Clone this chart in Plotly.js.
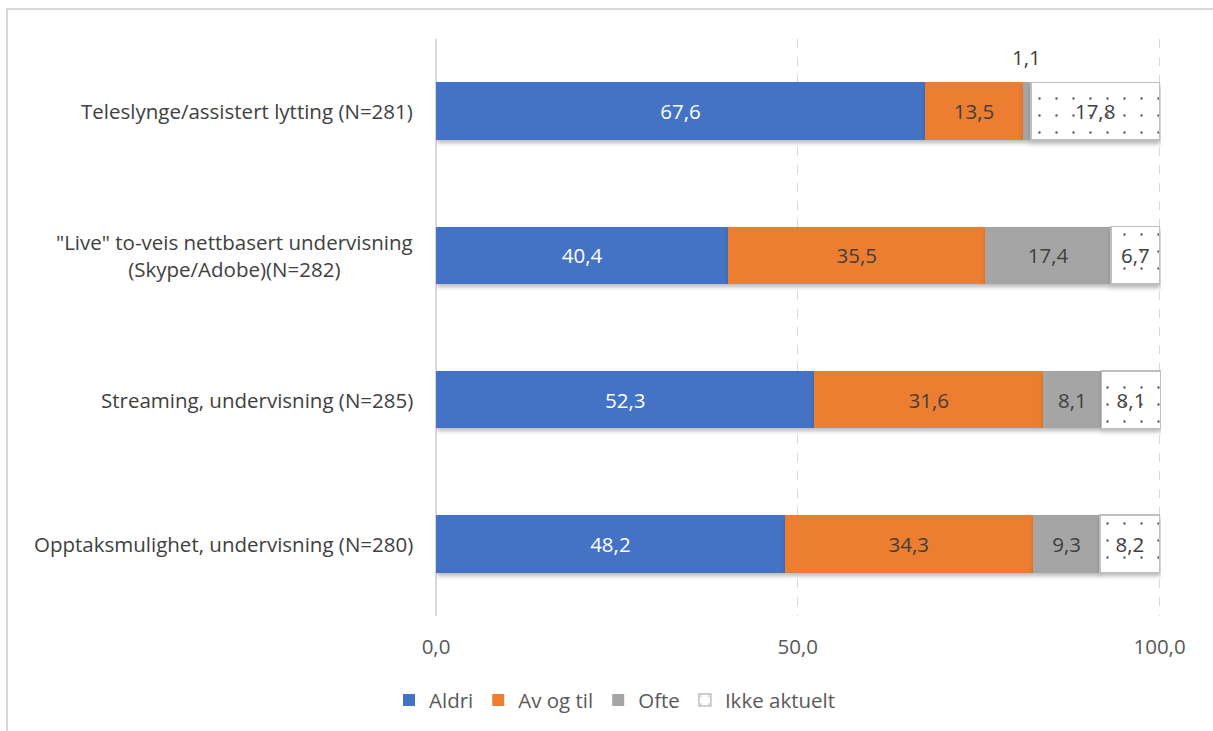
<!DOCTYPE html>
<html>
<head>
<meta charset="utf-8">
<script src="https://cdn.plot.ly/plotly-3.0.1.min.js"></script>
<style>
  html, body { margin: 0; padding: 0; background: #fff; }
  #wrap { position: relative; width: 1213px; height: 731px; }
  #chart { position: absolute; left: 0; top: 0; width: 1213px; height: 731px; }
  #frame { position: absolute; left: 6px; top: 8px; width: 1220px; height: 740px;
           border-left: 2px solid #d9d9d9; border-top: 2px solid #d9d9d9; pointer-events: none; }
  .barlayer .point path { filter: drop-shadow(1px 3px 2px rgba(0,0,0,0.28)); }
</style>
</head>
<body>
<div id="wrap"><div id="chart"></div><div id="frame"></div></div>
<script>
const categories = [
  'Teleslynge/assistert lytting (N=281)',
  '"Live" to-veis nettbasert undervisning<br>(Skype/Adobe)(N=282)',
  'Streaming, undervisning (N=285)',
  'Opptaksmulighet, undervisning (N=280)'
];
const seriesNames = ['Aldri', 'Av og til', 'Ofte', 'Ikke aktuelt'];
const aldri = [67.6, 40.4, 52.3, 48.2];
const avOgTil = [13.5, 35.5, 31.6, 34.3];
const ofte = [1.1, 17.4, 8.1, 9.3];
const ikkeAktuelt = [17.8, 6.7, 8.1, 8.2];
const tickValues = [0, 50, 100];
const tickLabels = ['0,0', '50,0', '100,0'];

const fmt = v => v.toFixed(1).replace('.', ',');
const FONT = '"Open Sans", "Noto Sans", sans-serif';
const FS = 20.5;
const seriesData = [aldri, avOgTil, ofte, ikkeAktuelt];
const colors = ['#4472C4', '#ED7D31', '#A5A5A5', '#FFFFFF'];
const textColors = ['#FFFFFF', '#404040', '#404040', '#404040'];

const traces = seriesData.map((vals, i) => {
  const t = {
    type: 'bar', orientation: 'h', name: seriesNames[i],
    y: categories, x: vals,
    text: vals.map(v => v < 2 ? '' : fmt(v)),
    texttemplate: '%{text}',
    textposition: 'inside', insidetextanchor: 'middle', textangle: 0,
    textfont: { family: FONT, size: FS, color: textColors[i] },
    hoverinfo: 'x+name',
    width: 0.4,
    marker: { color: colors[i], line: { width: 0 } }
  };
  if (i === 3) {
    t.marker = {
      color: '#FFFFFF',
      line: { color: '#BFBFBF', width: 1.5 },
      pattern: { shape: '.', fgcolor: '#595959', bgcolor: '#FFFFFF', size: 17, solidity: 0.015 }
    };
  }
  return t;
});

const annotations = categories.map(c => ({
  xref: 'paper', yref: 'y', x: 0, y: c, xanchor: 'right', yanchor: 'middle',
  xshift: -21, text: c, showarrow: false, align: 'center',
  font: { family: FONT, size: FS, color: '#404040' }
}));
// small labels placed above the bar
ofte.forEach((v, i) => {
  if (v < 2) {
    annotations.push({
      xref: 'x', yref: 'y', x: aldri[i] + avOgTil[i] + v / 2, y: categories[i],
      yshift: 54, text: fmt(v), showarrow: false,
      font: { family: FONT, size: FS, color: '#404040' }
    });
  }
});

const layout = {
  width: 1213, height: 731,
  margin: { l: 436, r: 52, t: 39, b: 115 },
  paper_bgcolor: '#FFFFFF', plot_bgcolor: '#FFFFFF',
  barmode: 'stack', bargap: 0.6,
  showlegend: true,
  font: { family: FONT, size: FS, color: '#595959' },
  xaxis: {
    range: [0, 100.2], tickvals: tickValues, ticktext: tickLabels,
    showgrid: true, gridcolor: '#D9D9D9', griddash: 'dash', gridwidth: 1,
    zeroline: true, zerolinecolor: '#D9D9D9', zerolinewidth: 1.5,
    showline: false, ticks: '', ticklabelstandoff: 16,
    tickfont: { family: FONT, size: FS, color: '#595959' }, fixedrange: true
  },
  yaxis: {
    type: 'category', categoryorder: 'array', categoryarray: categories,
    autorange: 'reversed', showticklabels: false, showgrid: false,
    zeroline: false, showline: false, ticks: '', fixedrange: true
  },
  legend: {
    orientation: 'h', xref: 'container', yref: 'container',
    x: 0.507, xanchor: 'center', y: 0.042, yanchor: 'middle',
    traceorder: 'normal', itemwidth: 30,
    font: { family: FONT, size: FS, color: '#595959' }
  },
  annotations: annotations
};

Plotly.newPlot('chart', traces, layout, { displayModeBar: false, staticPlot: true });
</script>
</body>
</html>
